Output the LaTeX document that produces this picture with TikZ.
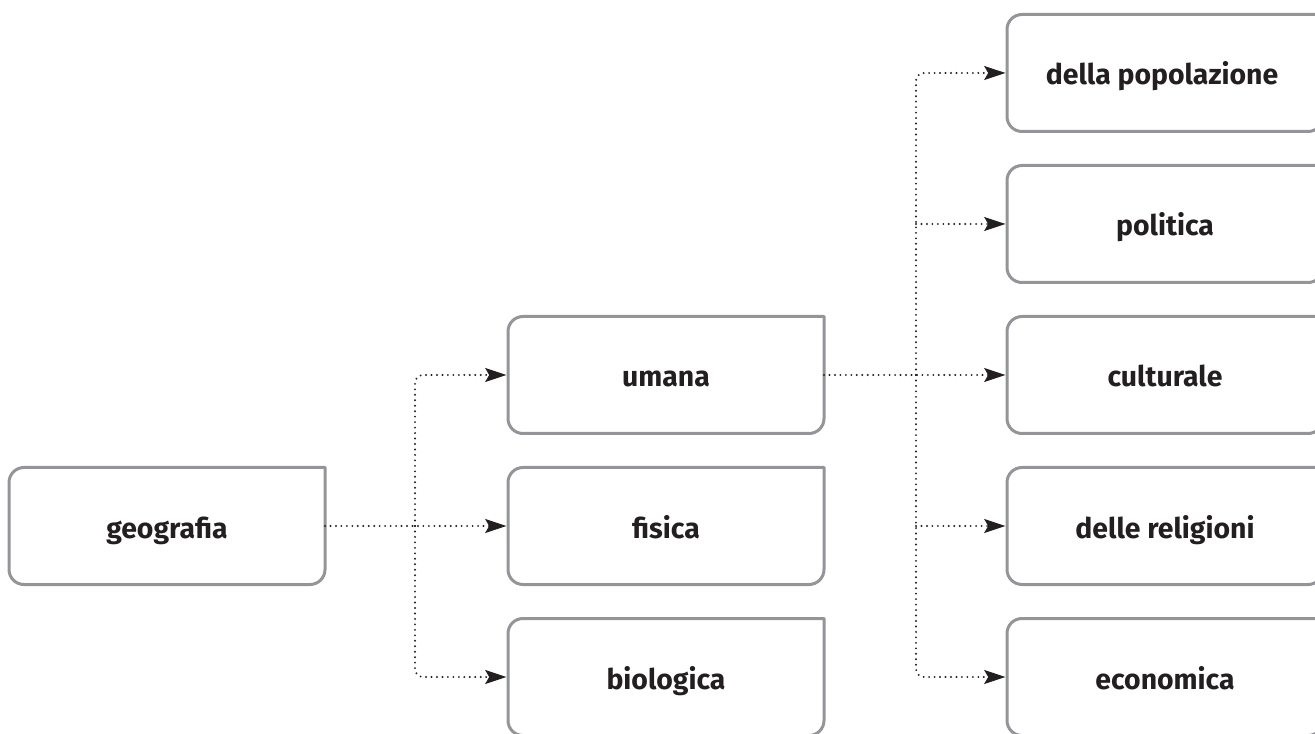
\documentclass[tikz,border=0pt]{standalone}
\usepackage{fontspec}
\setmainfont{Fira Sans}
\usetikzlibrary{arrows.meta}
\definecolor{txt}{HTML}{231F20}
\definecolor{bord}{HTML}{939598}
\tikzset{
  gfont/.style={font=\fontsize{21.3}{25}\selectfont\bfseries, text=txt, text height=18pt, text depth=0pt},
  gnode/.style={gfont, inner sep=0pt, outer sep=0pt, minimum width=237pt, minimum height=87.75pt},
  boxline/.style={draw=bord, line width=2.25pt, line join=round},
  conn/.style={draw=txt, line width=1.6pt, dash pattern=on 0pt off 4.1pt, line cap=round},
  tip/.style={-{Stealth[length=16pt,width=10.5pt,inset=3pt,line cap=butt]}, shorten >=1.1pt},
}
\newcommand\drawgbox[1]{\draw[boxline] (#1.north east) -- ([xshift=11.25pt]#1.north west)
  arc[start angle=90,end angle=180,radius=11.25pt] -- ([yshift=11.25pt]#1.south west)
  arc[start angle=180,end angle=270,radius=11.25pt] -- ([xshift=-11.25pt]#1.south east)
  arc[start angle=270,end angle=360,radius=11.25pt] -- cycle;}
\begin{document}
\begin{tikzpicture}[x=0.75pt,y=0.75pt]
\useasboundingbox (0,0) rectangle (1315,733);
\clip (0,0) rectangle (1315,733);
% nodes (y = 733 - pixel row)
\node[gnode] (geo) at (167,207) {geografia};
\node[gnode] (uma) at (666,358) {umana};
\node[gnode] (fis) at (666,207) {fisica};
\node[gnode] (bio) at (666,56) {biologica};
\node[gnode] (pop) at (1165,660) {};
\node[gfont, inner sep=0pt] (popt) at (1162,660) {della popolazione};
\node[gnode] (pol) at (1165,509) {politica};
\node[gnode] (cul) at (1165,358) {culturale};
\node[gnode] (rel) at (1165,207) {delle religioni};
\node[gnode] (eco) at (1165,56) {economica};
\foreach \b in {geo,uma,fis,bio,pop,pol,cul,rel,eco}{\drawgbox{\b}}
% connectors
\coordinate (j1) at (415,207);
\coordinate (j2) at (916,358);
\draw[conn,tip] (geo.east) -- (fis.west);
\draw[conn,tip,rounded corners=6pt] (j1) |- (uma.west);
\draw[conn,tip,rounded corners=6pt] (j1) |- (bio.west);
\draw[conn,tip] (uma.east) -- (cul.west);
\draw[conn,tip,rounded corners=6pt] (j2) |- (pop.west);
\draw[conn,tip,rounded corners=6pt] (j2) |- (eco.west);
\draw[conn,tip] (j2 |- pol.west) -- (pol.west);
\draw[conn,tip] (j2 |- rel.west) -- (rel.west);
\end{tikzpicture}
\end{document}
